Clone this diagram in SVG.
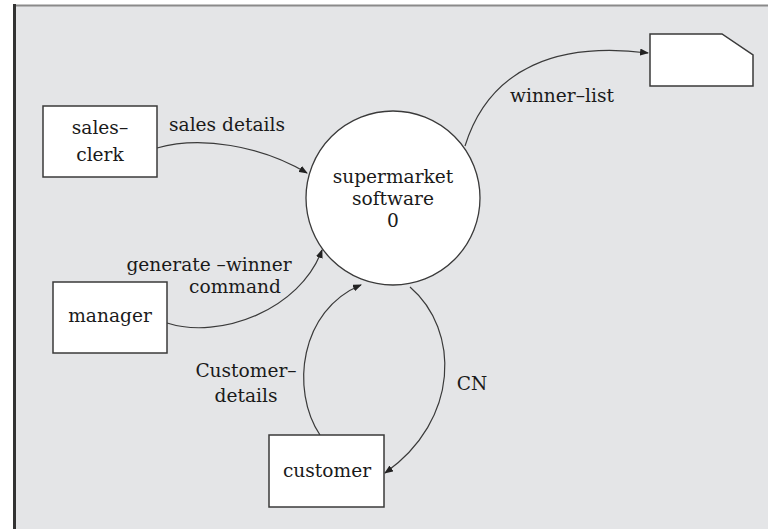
<svg xmlns="http://www.w3.org/2000/svg" width="771" height="529" viewBox="0 0 771 529">
<style>
text{font-family:"DejaVu Serif","Liberation Serif",serif;font-size:18.6px;fill:#1a1a1a;text-anchor:middle}
.box{fill:#fff;stroke:#3a3a3a;stroke-width:1.5}
.flow{fill:none;stroke:#3a3a3a;stroke-width:1.2;marker-end:url(#ah)}
</style>
<defs>
<marker id="ah" markerWidth="9" markerHeight="7" refX="8" refY="3.5" orient="auto" markerUnits="userSpaceOnUse">
<path d="M0,0 L9,3.5 L0,7 z" fill="#222"/>
</marker>
</defs>
<rect x="0" y="0" width="771" height="529" fill="#fff"/>
<rect x="14" y="5" width="754" height="524" fill="#e4e5e7"/>
<line x1="14" y1="5.5" x2="768" y2="5.5" stroke="#8a8a8a" stroke-width="2"/>
<line x1="14.5" y1="4" x2="14.5" y2="529" stroke="#333" stroke-width="3"/>

<g id="connectors">
<path class="flow" d="M157,148 C200,136 260,145 307,173"/>
<path class="flow" d="M465,146 C490,66 560,42 648,53"/>
<path class="flow" d="M167,323 C220,340 300,310 322,250"/>
<path class="flow" d="M320,435 C290,390 300,310 361,285"/>
<path class="flow" d="M410,287 C460,330 460,420 385,473"/>
<text x="227" y="131">sales details</text>
<text x="562" y="102">winner–list</text>
<text x="209" y="271">generate –winner</text>
<text x="235" y="293">command</text>
<text x="246" y="377">Customer–</text>
<text x="246" y="402">details</text>
<text x="472" y="390">CN</text>
</g>

<g id="process">
<circle cx="393" cy="198" r="87" fill="#fff" stroke="#3a3a3a" stroke-width="1.3"/>
<text x="393" y="183">supermarket</text>
<text x="393" y="205">software</text>
<text x="393" y="227">0</text>
</g>

<g id="sales-clerk">
<rect class="box" x="43" y="106" width="114" height="71"/>
<text x="100" y="134">sales–</text>
<text x="100" y="161">clerk</text>
</g>

<g id="manager">
<rect class="box" x="53" y="282" width="114" height="71"/>
<text x="110" y="322">manager</text>
</g>

<g id="customer">
<rect class="box" x="269" y="435" width="115" height="72"/>
<text x="327" y="477">customer</text>
</g>

<g id="winner-store">
<polygon class="box" points="650,34 722,34 753,55 753,86 650,86"/>
</g>
</svg>
